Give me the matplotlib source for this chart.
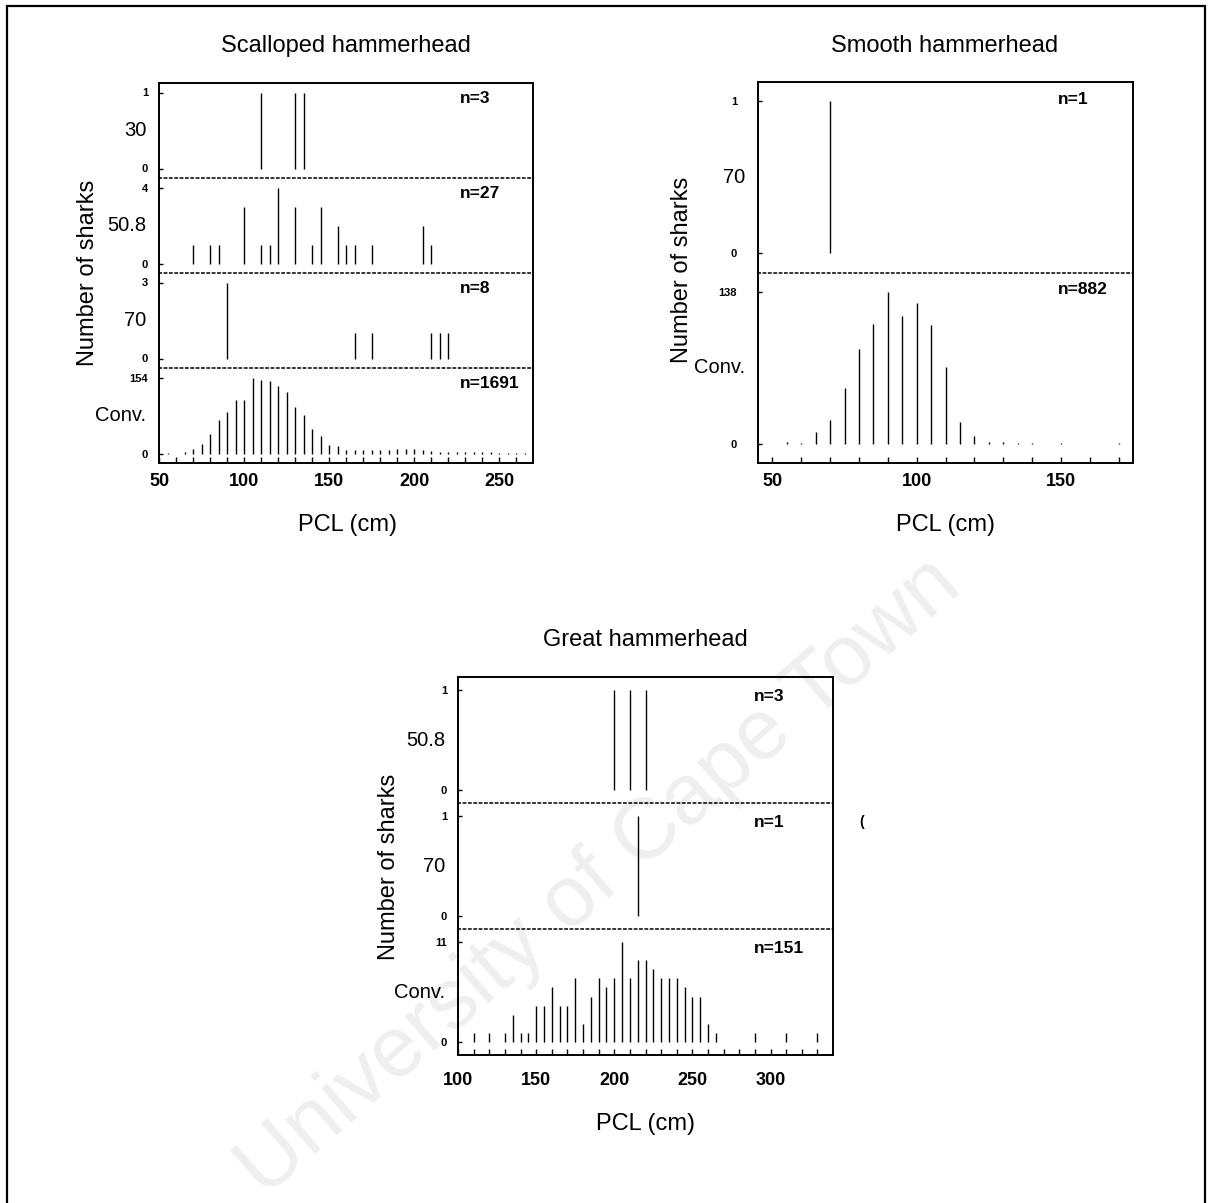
"""Length-frequency of hammerhead sharks by mesh size (30, 50.8, 70 cm, conventional nets)."""

import matplotlib

matplotlib.use("Agg")
import matplotlib.pyplot as plt  # noqa: E402
from matplotlib.patches import Rectangle  # noqa: E402

plt.rcParams["font.family"] = ["Liberation Sans", "DejaVu Sans"]

# Scalloped hammerhead
scal_30_pcl = [110, 130, 135]
scal_30_count = [1, 1, 1]
scal_508_pcl = [70, 80, 85, 100, 110, 115, 120, 130, 140, 145, 155, 160, 165, 175, 205, 210]
scal_508_count = [1, 1, 1, 3, 1, 1, 4, 3, 1, 3, 2, 1, 1, 1, 2, 1]
scal_70_pcl = [90, 165, 175, 210, 215, 220]
scal_70_count = [3, 1, 1, 1, 1, 1]
scal_conv_pcl = [55, 65, 70, 75, 80, 85, 90, 95, 100, 105, 110, 115, 120, 125, 130, 135,
                 140, 145, 150, 155, 160, 165, 170, 175, 180, 185, 190, 195, 200, 205,
                 210, 215, 220, 225, 230, 235, 240, 245, 250, 255, 260, 265]
scal_conv_count = [1, 3, 9, 19, 39, 68, 85, 108, 108, 154, 149, 146, 137, 124, 95, 78,
                   49, 35, 17, 15, 8, 7, 7, 7, 8, 8, 9, 10, 10, 8,
                   6, 4, 4, 3, 3, 3, 3, 3, 2, 2, 2, 2]
scal_n = ["n=3", "n=27", "n=8", "n=1691"]

# Smooth hammerhead
smooth_70_pcl = [70]
smooth_70_count = [1]
smooth_conv_pcl = [55, 60, 65, 70, 75, 80, 85, 90, 95, 100, 105, 110, 115, 120, 125,
                   130, 135, 140, 150, 170]
smooth_conv_count = [2, 1, 11, 22, 51, 86, 109, 138, 116, 128, 108, 70, 20, 7, 2,
                     2, 1, 1, 1, 1]
smooth_n = ["n=1", "n=882"]

# Great hammerhead
great_508_pcl = [200, 210, 220]
great_508_count = [1, 1, 1]
great_70_pcl = [215]
great_70_count = [1]
great_conv_pcl = [110, 120, 130, 135, 140, 145, 150, 155, 160, 165, 170, 175, 180, 185,
                  190, 195, 200, 205, 210, 215, 220, 225, 230, 235, 240, 245, 250, 255,
                  260, 265, 290, 310, 330]
great_conv_count = [1, 1, 1, 3, 1, 1, 4, 4, 6, 4, 4, 7, 2, 5,
                    7, 6, 7, 11, 7, 9, 9, 8, 7, 7, 7, 6, 5, 5,
                    2, 1, 1, 1, 1]
great_n = ["n=3", "n=1", "n=151"]

W, H = 1212, 1203


def fx(x):
    return x / W


def fy(y):
    return 1 - y / H


def draw_species(fig, box, meshes, pcls, counts, nlabels, xlim, xmajor, xminor,
                 ytick_pad=8, mid_off=9, xtick_pad=7, nx=0.80, ny=0.85):
    left, top, right, bottom = box
    ph = (bottom - top) / len(meshes)
    for i, (mesh, pcl, count, nlab) in enumerate(zip(meshes, pcls, counts, nlabels)):
        y0 = top + i * ph
        ax = fig.add_axes([fx(left), fy(y0 + ph), (right - left) / W, ph / H])
        ax.set_facecolor("none")
        ymax = max(count)
        ax.vlines(pcl, 0, count, color="black", lw=1.0)
        ax.set_xlim(*xlim)
        ax.set_ylim(-0.125 * ymax, 1.125 * ymax)
        ax.set_yticks([0, ymax])
        ax.set_yticklabels(["0", str(ymax)], fontsize=8, fontweight="bold")
        ax.tick_params(axis="y", direction="in", length=3, width=1, pad=ytick_pad)
        for s in ("left", "right", "top"):
            ax.spines[s].set_linewidth(1.4)
        if i > 0:
            ax.spines["top"].set_linestyle((0, (1.5, 2)))
            ax.spines["top"].set_linewidth(1.1)
        if i < len(meshes) - 1:
            ax.spines["bottom"].set_visible(False)
            ax.set_xticks([])
        else:
            ax.spines["bottom"].set_linewidth(1.4)
            ax.set_xticks(xmajor)
            ax.set_xticks(xminor, minor=True)
            ax.tick_params(axis="x", which="both", direction="in", length=4, width=1,
                           labelsize=13, pad=xtick_pad)
            for t in ax.get_xticklabels():
                t.set_fontweight("bold")
        ax.annotate(mesh, xy=(0, 0.5), xycoords="axes fraction", xytext=(-mid_off, 0),
                    textcoords="offset points", ha="right", va="center", fontsize=14.5)
        ax.text(nx, ny, nlab, transform=ax.transAxes, fontsize=12.5, fontweight="bold",
                va="center", ha="left")


fig = plt.figure(figsize=(W / 100, H / 100), dpi=100)

# page frame
fig.add_artist(Rectangle((fx(7), -0.02), fx(1205) - fx(7), fy(6) + 0.02,
                         transform=fig.transFigure, fill=False, lw=1.6, ec="black"))

# watermark
fig.text(fx(600), fy(878), "University of Cape Town", rotation=41, fontsize=62,
         color="#efefef", ha="center", va="center", zorder=-5, rotation_mode="anchor")

draw_species(fig, (159, 83, 533, 463),
             ["30", "50.8", "70", "Conv."],
             [scal_30_pcl, scal_508_pcl, scal_70_pcl, scal_conv_pcl],
             [scal_30_count, scal_508_count, scal_70_count, scal_conv_count],
             scal_n, (50, 270), [50, 100, 150, 200, 250], list(range(50, 270, 10)),
             nx=0.805, ny=0.84)
fig.text(fx(346), fy(46), "Scalloped hammerhead", fontsize=17, ha="center", va="center")
fig.text(fx(347), fy(525), "PCL (cm)", fontsize=17, ha="center", va="center")
fig.text(fx(88), fy(273), "Number of sharks", fontsize=17, rotation=90,
         ha="center", va="center")

draw_species(fig, (758, 82, 1133, 463),
             ["70", "Conv."],
             [smooth_70_pcl, smooth_conv_pcl],
             [smooth_70_count, smooth_conv_count],
             smooth_n, (45, 175), [50, 100, 150], list(range(50, 175, 10)),
             ytick_pad=15, mid_off=9, nx=0.80, ny=0.91)
fig.text(fx(945), fy(46), "Smooth hammerhead", fontsize=17, ha="center", va="center")
fig.text(fx(945), fy(525), "PCL (cm)", fontsize=17, ha="center", va="center")
fig.text(fx(682), fy(270), "Number of sharks", fontsize=17, rotation=90,
         ha="center", va="center")

draw_species(fig, (458, 677, 833, 1055),
             ["50.8", "70", "Conv."],
             [great_508_pcl, great_70_pcl, great_conv_pcl],
             [great_508_count, great_70_count, great_conv_count],
             great_n, (100, 340), [100, 150, 200, 250, 300], list(range(100, 340, 10)),
             xtick_pad=12, nx=0.79, ny=0.845)
fig.text(fx(645), fy(640), "Great hammerhead", fontsize=17, ha="center", va="center")
fig.text(fx(645), fy(1124), "PCL (cm)", fontsize=17, ha="center", va="center")
fig.text(fx(389), fy(867), "Number of sharks", fontsize=17, rotation=90,
         ha="center", va="center")

fig.text(fx(862), fy(822), "(", fontsize=10, fontweight="bold", ha="center", va="center")

fig.savefig("out.png", dpi=100)
plt.close(fig)
